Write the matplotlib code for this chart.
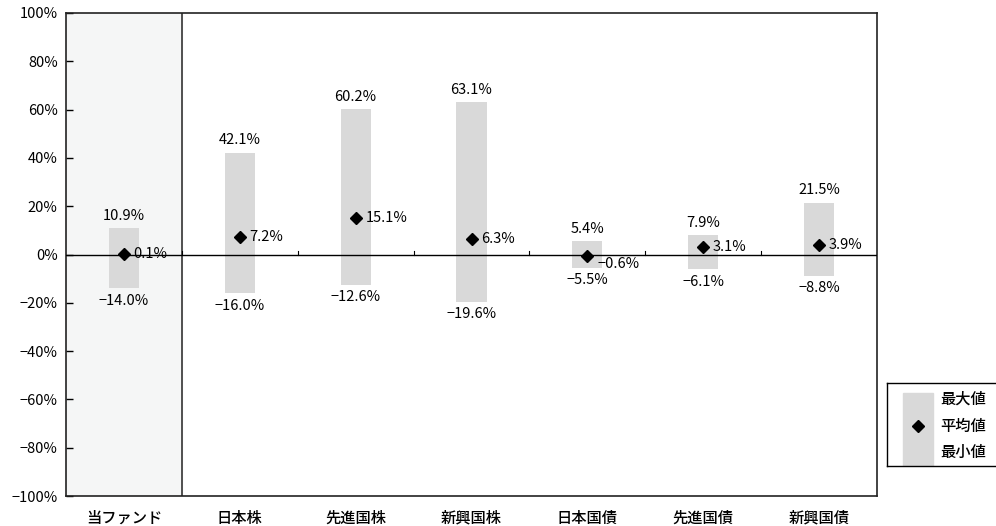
import matplotlib.pyplot as plt
from matplotlib.patches import Rectangle
import numpy as np

plt.rcParams['font.family'] = ['Noto Sans CJK JP', 'DejaVu Sans']
plt.rcParams['axes.unicode_minus'] = True

categories = ['当ファンド', '日本株', '先進国株', '新興国株', '日本国債', '先進国債', '新興国債']
max_vals = [10.9, 42.1, 60.2, 63.1, 5.4, 7.9, 21.5]
avg_vals = [0.1, 7.2, 15.1, 6.3, -0.6, 3.1, 3.9]
min_vals = [-14.0, -16.0, -12.6, -19.6, -5.5, -6.1, -8.8]

bar_color = '#d9d9d9'
fig = plt.figure(figsize=(9.96, 5.26), dpi=100)
ax = fig.add_axes([66 / 996, 30 / 526, 811 / 996, 483 / 526])

x = np.arange(len(categories))
ax.set_xlim(-0.5, len(categories) - 0.5)
ax.set_ylim(-100, 100)


def pct(v):
    return f'{v:.1f}%'.replace('-', '\u2212')


# shaded column for the fund itself
ax.axvspan(-0.5, 0.5, color='#f5f6f6', zorder=0)
ax.axvline(0.5, color='#333333', lw=1.2, zorder=1)

ax.bar(x, np.array(max_vals) - np.array(min_vals), bottom=min_vals,
       width=0.26, color=bar_color, zorder=2)
ax.axhline(0, color='black', lw=1, zorder=3)
ax.plot(x, avg_vals, linestyle='none', marker='D', markersize=6.5,
        color='black', zorder=4)

fs = 10.5
for xi, hi, av, lo in zip(x, max_vals, avg_vals, min_vals):
    ax.annotate(pct(hi), (xi, hi), xytext=(0, 4), textcoords='offset points',
                ha='center', va='bottom', fontsize=fs, zorder=5)
    ax.annotate(pct(lo), (xi, lo), xytext=(0, -4), textcoords='offset points',
                ha='center', va='top', fontsize=fs, zorder=5)
    dy = -6 if av < 0 else 0
    ax.annotate(pct(av), (xi, av), xytext=(7, dy), textcoords='offset points',
                ha='left', va='center', fontsize=fs, zorder=5)

# category ticks sit on the zero line
for b in np.arange(0.5, len(categories) - 0.5, 1):
    ax.plot([b, b], [0, 1.5], color='black', lw=0.8, zorder=3)

ax.set_xticks(x)
ax.set_xticklabels(categories, fontsize=11, fontweight='medium')
ax.tick_params(axis='x', length=0, pad=10)
ax.set_yticks(np.arange(-100, 101, 20))
ax.set_yticklabels([f'{v}%'.replace('-', '\u2212') for v in range(-100, 101, 20)],
                   fontsize=10.5)
ax.tick_params(axis='y', direction='in', length=5, width=1, pad=6)
for s in ax.spines.values():
    s.set_linewidth(1.2)
    s.set_color('#222222')

# legend drawn in its own small box
lax = fig.add_axes([887 / 996, 60 / 526, 120 / 996, 83 / 526])
lax.set_xlim(0, 1)
lax.set_ylim(0, 1)
lax.set_xticks([])
lax.set_yticks([])
for s in lax.spines.values():
    s.set_linewidth(1)
lax.add_patch(Rectangle((0.13, 0.0), 0.25, 0.88, color=bar_color))
lax.plot([0.255], [0.48], marker='D', markersize=6.5, color='black')
for yy, lab in zip([0.8, 0.48, 0.16], ['最大値', '平均値', '最小値']):
    lax.text(0.44, yy, lab, fontsize=11, fontweight='medium', va='center', ha='left')

fig.savefig('out.png', dpi=100)
